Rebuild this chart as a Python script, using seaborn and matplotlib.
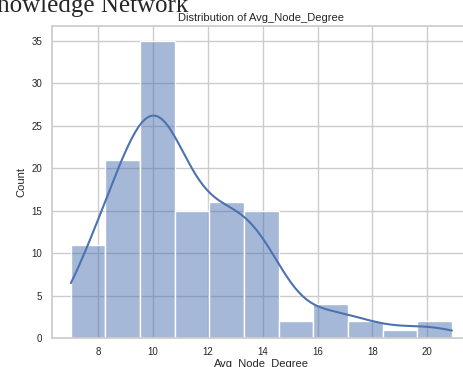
import numpy as np
import pandas as pd
import matplotlib
matplotlib.use("Agg")
import matplotlib.pyplot as plt
import seaborn as sns

# Histogram counts (11 equal-width bins)
bin_low = 7.0
bin_high = 20.9
counts = [11, 21, 35, 15, 16, 15, 2, 4, 2, 1, 2]
title = "Distribution of Avg_Node_Degree"
xlabel = "Avg_Node_Degree"
ylabel = "Count"
suptitle = "Knowledge Network"

edges = np.linspace(bin_low, bin_high, len(counts) + 1)
centers = (edges[:-1] + edges[1:]) / 2
values = np.repeat(centers, counts)
df = pd.DataFrame({"Avg_Node_Degree": values})

sns.set_theme(style="whitegrid")
plt.rcParams["font.family"] = ["Liberation Sans", "DejaVu Sans"]

fig = plt.figure(figsize=(4.64, 3.67), dpi=100)
ax = fig.add_axes([0.1116, 0.0782, 0.9035, 0.8507])
sns.histplot(data=df, x="Avg_Node_Degree", bins=len(counts),
             binrange=(bin_low, bin_high), kde=True,
             kde_kws=dict(cut=3, clip=(bin_low, bin_high)),
             ax=ax)
ax.set_title(title, fontsize=8, pad=4)
ax.set_xlabel(xlabel, fontsize=8, labelpad=1.5)
ax.set_ylabel(ylabel, fontsize=8, labelpad=3.5)
ax.tick_params(axis="x", labelsize=7, length=0, pad=6)
ax.tick_params(axis="y", labelsize=7, length=0, pad=7)
fig.text(188 / 464, 1 - 12 / 367, suptitle, ha="right", va="baseline",
         fontsize=18, family="Liberation Serif")
fig.savefig("out.png", dpi=100)
